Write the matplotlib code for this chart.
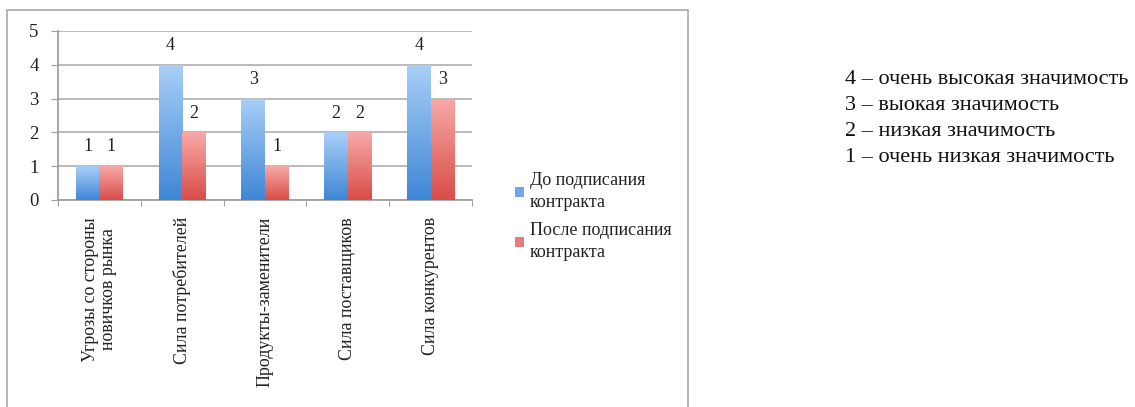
import numpy as np
import matplotlib
matplotlib.use("Agg")
import matplotlib.pyplot as plt
from matplotlib.patches import Patch, Rectangle
from matplotlib.colors import LinearSegmentedColormap

plt.rcParams["font.family"] = ["Liberation Serif", "DejaVu Serif"]

categories = [
    "Угрозы со стороны\nновичков рынка",
    "Сила потребителей",
    "Продукты-заменители",
    "Сила поставщиков",
    "Сила конкурентов",
]
before = [1, 4, 3, 2, 4]
after = [1, 2, 1, 2, 3]
series_names = ["До подписания\nконтракта", "После подписания\nконтракта"]
scale_notes = [
    "4 – очень высокая значимость",
    "3 – выокая значимость",
    "2 – низкая значимость",
    "1 – очень низкая значимость",
]

blue_grad = LinearSegmentedColormap.from_list("blue", ["#3f86d6", "#a9cff8"])
red_grad = LinearSegmentedColormap.from_list("red", ["#d94d48", "#f7a9a7"])

fig = plt.figure(figsize=(11.35, 4.07), dpi=100)

# light frame around the chart block
fig.patches.append(Rectangle((7 / 1135, -0.05), 681 / 1135, 1.05 - 10 / 407,
                             transform=fig.transFigure, fill=False,
                             edgecolor="#a8a8a8", linewidth=1.2))

ax = fig.add_axes([58 / 1135, 207 / 407, 414 / 1135, 169 / 407])

x = np.arange(len(categories))
w = 0.285
bars_b = ax.bar(x - w / 2, before, w, color="#6fa8e8", zorder=2)
bars_a = ax.bar(x + w / 2, after, w, color="#e87c78", zorder=2)

# vertical gradient fill inside each bar
grad = np.linspace(0, 1, 256).reshape(-1, 1)
for bars, cmap in [(bars_b, blue_grad), (bars_a, red_grad)]:
    for b in bars:
        x0, h, bw = b.get_x(), b.get_height(), b.get_width()
        im = ax.imshow(grad, cmap=cmap, origin="lower", aspect="auto",
                       extent=[x0, x0 + bw, 0, h], zorder=3)
        im.set_clip_path(b)

for xs, vals in [(x - w / 2, before), (x + w / 2, after)]:
    for xi, v in zip(xs, vals):
        ax.text(xi, v + 0.32, str(v), ha="center", va="bottom",
                fontsize=13, color="#222222")

ax.set_xlim(-0.5, len(categories) - 0.5)
ax.set_ylim(0, 5)
ax.set_yticks(range(6))
ax.yaxis.grid(True, color="#b4b4b4", linewidth=1.3, zorder=0)
ax.set_axisbelow(True)
for s in ["top", "right"]:
    ax.spines[s].set_visible(False)
for s in ["left", "bottom"]:
    ax.spines[s].set_color("#a0a0a0")
    ax.spines[s].set_linewidth(1.3)
ax.tick_params(axis="y", length=5, color="#a0a0a0", labelsize=13.5, pad=9,
               labelcolor="#222222")

ax.set_xticks(np.arange(-0.5, len(categories)))
ax.set_xticklabels([])
ax.tick_params(axis="x", length=4, color="#a0a0a0", direction="out")
for xi, lab in zip(x, categories):
    ax.text(xi, -0.5, lab, rotation=90, ha="center", va="top",
            fontsize=12.9, color="#222222", linespacing=1.05)

handles = [Patch(facecolor="#6fa8e8"), Patch(facecolor="#e87c78")]
leg = fig.legend(handles, series_names, loc="upper left",
                 bbox_to_anchor=(499 / 1135, 1 - 156 / 407), frameon=False,
                 fontsize=13, handlelength=0.5, handleheight=0.5,
                 handletextpad=0.3, labelspacing=0.6, labelcolor="#222222")
for t in leg.get_texts():
    t.set_linespacing(1.4)

for i, note in enumerate(scale_notes):
    fig.text(845 / 1135, 1 - (80 + 26 * i) / 407, note, fontsize=16,
             va="center", ha="left", color="#111111")

fig.savefig("out.png", dpi=100)
